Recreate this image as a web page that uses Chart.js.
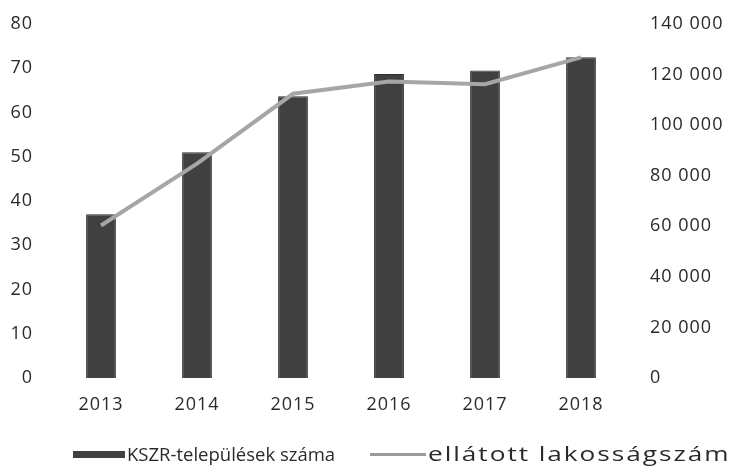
<!DOCTYPE html>
<html>
<head>
<meta charset="utf-8">
<script src="https://cdn.jsdelivr.net/npm/chart.js@4/dist/chart.umd.min.js"></script>
<style>
  html, body { margin: 0; padding: 0; background: #fff; }
  #wrap { position: relative; width: 731px; height: 476px; }
  #legend { position: absolute; left: 0; top: 441px; width: 731px; height: 26px;
    font-family: "Open Sans", sans-serif; color: #2a2a2a; }
  .item { position: absolute; top: 0; white-space: nowrap; line-height: 26px; }
  .sw { position: absolute; }
</style>
</head>
<body>
<div id="wrap">
  <canvas id="chart" width="731" height="476"></canvas>
  <div id="legend">
    <div class="sw" style="left:73px; top:10px; width:52px; height:7px; background:#404040;"></div>
    <div class="item" style="left:127px; font-size:18.5px;">KSZR-települések száma</div>
    <div class="sw" style="left:370px; top:12px; width:56px; height:3px; background:#9a9a9a;"></div>
    <div class="item" style="left:428px; font-size:20px; letter-spacing:1.5px; transform:scaleX(1.31); transform-origin:left center;">ellátott lakosságszám</div>
  </div>
</div>
<script>
// data
let years = ["2013", "2014", "2015", "2016", "2017", "2018"];
let kszr_telepulesek = [37, 51, 63.7, 68.7, 69.5, 72.5];
let ellatott_lakossag = [60300, 84800, 112400, 117300, 116200, 126800];

let tickFont = { family: "Open Sans", size: 18 };
let tickColor = "#2a2a2a";

function space_thousands(v) {
    return String(v).replace(/\B(?=(\d{3})+(?!\d))/g, " ");
}

// slightly wider text, like the original
const spacing = {
    id: "spacing",
    beforeDraw: function (chart) { chart.ctx.letterSpacing = "1px"; }
};

function fit_y(w) {
    return function (s) {
        s.width = w;
        s.paddingTop = 0;
        s.paddingBottom = 0;
    };
}

var ctx = document.getElementById("chart").getContext("2d");
new Chart(ctx, {
    type: "bar",
    data: {
        labels: years,
        datasets: [
            {
                type: "line",
                label: "ellátott lakosságszám",
                data: ellatott_lakossag,
                yAxisID: "y1",
                borderColor: "#a6a6a6",
                borderWidth: 4,
                pointRadius: 0,
                tension: 0,
                order: 0
            },
            {
                type: "bar",
                label: "KSZR-települések száma",
                data: kszr_telepulesek,
                yAxisID: "y",
                backgroundColor: "#404040",
                borderColor: "#2e2e2e",
                borderWidth: 1,
                barPercentage: 0.31,
                categoryPercentage: 1,
                order: 1
            }
        ]
    },
    plugins: [spacing],
    options: {
        responsive: false,
        animation: false,
        layout: { padding: { top: 24, bottom: 0, left: 0, right: 0 } },
        plugins: { legend: { display: false }, tooltip: { enabled: false } },
        scales: {
            x: {
                grid: { display: false, drawTicks: false },
                border: { display: false },
                ticks: { font: tickFont, color: tickColor, padding: 16 },
                afterFit: function (s) {
                    s.height = 98;
                    s.paddingLeft = 0;
                    s.paddingRight = 0;
                }
            },
            y: {
                position: "left",
                min: 0, max: 80,
                grid: { display: false, drawTicks: false },
                border: { display: false },
                ticks: { stepSize: 10, font: tickFont, color: tickColor, padding: 20 },
                afterFit: fit_y(53)
            },
            y1: {
                position: "right",
                min: 0, max: 140000,
                grid: { display: false, drawTicks: false },
                border: { display: false },
                ticks: {
                    stepSize: 20000, font: tickFont, color: tickColor, padding: 21,
                    callback: function (v) { return space_thousands(v); }
                },
                afterFit: fit_y(102)
            }
        }
    }
});
</script>
</body>
</html>
